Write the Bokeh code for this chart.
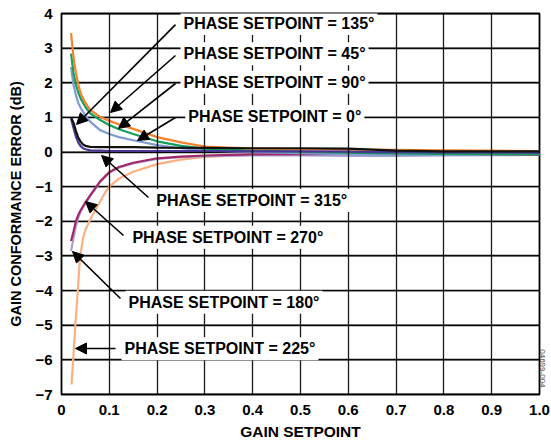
import math
from bokeh.plotting import figure
from bokeh.models import (Label, Arrow, NormalHead, FixedTicker, Title,
                          CustomJSTickFormatter, Range1d)
from bokeh.embed import file_html
from bokeh.resources import INLINE

# ---------------- data ----------------
x_ticks = [0, 0.1, 0.2, 0.3, 0.4, 0.5, 0.6, 0.7, 0.8, 0.9, 1.0]
x_tick_labels = ["0", "0.1", "0.2", "0.3", "0.4", "0.5", "0.6", "0.7", "0.8", "0.9", "1.0"]
y_ticks = [-7, -6, -5, -4, -3, -2, -1, 0, 1, 2, 3, 4]
y_tick_labels = ["\u22127", "\u22126", "\u22125", "\u22124", "\u22123", "\u22122", "\u22121",
                 "0", "1", "2", "3", "4"]

x_low = [0.02, 0.025, 0.03, 0.035, 0.04, 0.045, 0.05, 0.06, 0.08, 0.1, 0.15, 0.2,
         0.3, 0.4, 0.5, 0.6, 0.65, 0.7, 0.8, 0.9, 1.0]
y_0deg = [1.0, 0.85, 0.62, 0.42, 0.3, 0.22, 0.18, 0.15, 0.14, 0.14, 0.14, 0.13,
          0.12, 0.11, 0.11, 0.1, 0.07, 0.04, 0.02, 0.02, 0.02]
y_315deg = [0.97, 0.7, 0.45, 0.28, 0.17, 0.11, 0.08, 0.05, 0.04, 0.03, 0.03, 0.03,
            0.03, 0.02, 0.02, 0.01, 0.0, 0.0, -0.01, -0.01, -0.02]

x_main = [0.02, 0.025, 0.03, 0.035, 0.04, 0.05, 0.06, 0.08, 0.1, 0.12, 0.15, 0.2,
          0.25, 0.3, 0.4, 0.5, 0.6, 0.7, 0.8, 0.9, 1.0]
y_135deg = [3.43, 2.75, 2.3, 1.95, 1.7, 1.42, 1.22, 1.02, 0.9, 0.8, 0.67, 0.43,
            0.28, 0.16, 0.1, 0.08, 0.07, 0.06, 0.05, 0.04, 0.03]
y_45deg = [2.84, 2.3, 1.95, 1.72, 1.55, 1.3, 1.12, 0.93, 0.78, 0.66, 0.52, 0.31,
           0.18, 0.1, 0.04, 0.01, -0.02, -0.04, -0.05, -0.06, -0.06]
y_90deg = [2.45, 1.95, 1.65, 1.42, 1.28, 1.05, 0.88, 0.64, 0.52, 0.43, 0.34, 0.2,
           0.11, 0.05, 0.0, -0.03, -0.06, -0.08, -0.08, -0.07, -0.06]
y_270deg = [-2.57, -2.3, -2.0, -1.82, -1.68, -1.45, -1.25, -0.86, -0.58, -0.43, -0.31, -0.18,
            -0.13, -0.1, -0.07, -0.06, -0.05, -0.05, -0.06, -0.07, -0.08]
y_180deg = [-2.86, -2.5, -2.15, -1.9, -1.72, -1.48, -1.27, -0.88, -0.6, -0.45, -0.33, -0.2,
            -0.15, -0.12, -0.1, -0.1, -0.11, -0.11, -0.1, -0.09, -0.08]

x_225 = [0.021, 0.0244, 0.029, 0.034, 0.039, 0.045, 0.05, 0.06, 0.07, 0.08, 0.09, 0.1,
         0.12, 0.15, 0.2, 0.25, 0.3, 0.4, 0.5, 0.6, 0.7, 0.8, 0.9, 1.0]
y_225deg = [-6.71, -6.0, -5.0, -4.0, -3.0, -2.5, -2.25, -1.95, -1.7, -1.45, -1.2, -1.0,
            -0.77, -0.57, -0.35, -0.22, -0.14, -0.08, -0.06, -0.06, -0.07, -0.08, -0.08, -0.08]

series = [
    (x_225, y_225deg, "#F9B183"),
    (x_main, y_180deg, "#A9A1D6"),
    (x_main, y_270deg, "#A3286A"),
    (x_main, y_90deg, "#7F9BCF"),
    (x_main, y_45deg, "#12A05A"),
    (x_main, y_135deg, "#F5822A"),
    (x_low, y_315deg, "#4A3596"),
    (x_low, y_0deg, "#111111"),
]

label_texts = ["PHASE SETPOINT = 135\u00b0", "PHASE SETPOINT = 45\u00b0",
               "PHASE SETPOINT = 90\u00b0", "PHASE SETPOINT = 0\u00b0",
               "PHASE SETPOINT = 315\u00b0", "PHASE SETPOINT = 270\u00b0",
               "PHASE SETPOINT = 180\u00b0", "PHASE SETPOINT = 225\u00b0"]
label_x = [0.249, 0.249, 0.249, 0.259, 0.192, 0.142, 0.134, 0.1255]
label_y = [3.71, 2.837, 2.017, 1.027, -1.398, -2.458, -4.334, -5.68]

arrow_start_x = [0.2385, 0.2385, 0.2385, 0.2385, 0.182, 0.1297, 0.1234, 0.113]
arrow_start_y = [3.68, 2.788, 1.979, 0.998, -1.312, -2.409, -4.227, -5.671]
arrow_end_x = [0.0314, 0.1025, 0.1192, 0.159, 0.0837, 0.0502, 0.023, 0.0293]
arrow_end_y = [0.796, 1.142, 0.680, 0.334, -0.099, -1.427, -2.871, -5.671]

FONT = "Liberation Sans"
INK = "black"

p = figure(width=550, height=446, output_backend="svg", toolbar_location=None,
           title=None, x_range=Range1d(0, 1), y_range=Range1d(-7, 4),
           min_border_left=61, min_border_right=11, min_border_top=13,
           min_border_bottom=52)
p.background_fill_color = "white"
p.border_fill_color = "white"
p.outline_line_color = INK
p.outline_line_width = 1.8
p.outline_line_alpha = 1.0

# vertical grid: native grid
p.xgrid.ticker = FixedTicker(ticks=x_ticks)
p.xgrid.grid_line_color = INK
p.xgrid.grid_line_width = 1.3
p.xgrid.grid_line_alpha = 0.9
p.xgrid.level = "glyph"

# horizontal grid: native grid too
p.ygrid.ticker = FixedTicker(ticks=[float(t) for t in y_ticks])
p.ygrid.grid_line_color = INK
p.ygrid.grid_line_width = 1.3
p.ygrid.grid_line_alpha = 0.9
p.ygrid.level = "underlay"

# horizontal grid as thin filled bands (data height about 1.3 px)
half = 0.019
p.quad(left=[float(x_ticks[0])] * len(y_ticks), right=[float(x_ticks[-1])] * len(y_ticks),
       bottom=[t - half for t in y_ticks], top=[t + half for t in y_ticks],
       fill_color=INK, fill_alpha=0.9, line_color=None)

p.xaxis.ticker = FixedTicker(ticks=x_ticks)
p.yaxis.ticker = FixedTicker(ticks=y_ticks)

code = """
let b = 0;
for (let i = 0; i < t.length; i++) { if (Math.abs(t[i] - tick) < Math.abs(t[b] - tick)) b = i; }
return l[b];
"""
p.xaxis.formatter = CustomJSTickFormatter(args=dict(t=x_ticks, l=x_tick_labels), code=code)
p.yaxis.formatter = CustomJSTickFormatter(args=dict(t=y_ticks, l=y_tick_labels), code=code)

for ax in (p.xaxis, p.yaxis):
    ax.axis_line_color = None
    ax.major_tick_out = 0
    ax.major_tick_in = 0
    ax.minor_tick_out = 0
    ax.minor_tick_in = 0
    ax.major_label_text_font = FONT
    ax.major_label_text_font_style = "bold"
    ax.major_label_text_font_size = "15px"
    ax.major_label_text_color = "black"
    ax.axis_label_text_font = FONT
    ax.axis_label_text_font_style = "bold"
    ax.axis_label_text_color = "black"

p.xaxis.axis_label = "GAIN SETPOINT"
p.xaxis.axis_label_text_font_size = "15.5px"
p.xaxis.major_label_standoff = 10
p.xaxis.axis_label_standoff = 5

p.yaxis.axis_label = "GAIN CONFORMANCE ERROR (dB)"
p.yaxis.axis_label_text_font_size = "14.5px"
p.yaxis.major_label_standoff = 9
p.yaxis.axis_label_standoff = 8

for xs, ys, c in series:
    p.line(xs, ys, line_color=c, line_width=2.2)

for xs, ys, xe, ye in zip(arrow_start_x, arrow_start_y, arrow_end_x, arrow_end_y):
    p.add_layout(Arrow(end=NormalHead(size=11, line_color="black", fill_color="black",
                                      line_width=1),
                       x_start=xs, y_start=ys, x_end=xe, y_end=ye,
                       line_color="black", line_width=1.6))

for txt, lx, ly in zip(label_texts, label_x, label_y):
    p.add_layout(Label(x=lx, y=ly, text=txt, text_font=FONT, text_font_style="bold",
                       text_font_size="16px", text_color="black",
                       text_align="left", text_baseline="middle",
                       background_fill_color="white", padding=3))

p.add_layout(Title(text="04699-004", align="right", offset=7, standoff=0,
                   text_font=FONT, text_font_size="8px", text_font_style="normal",
                   text_color="#444444"), "right")

open("out.html", "w").write(file_html(p, INLINE))
